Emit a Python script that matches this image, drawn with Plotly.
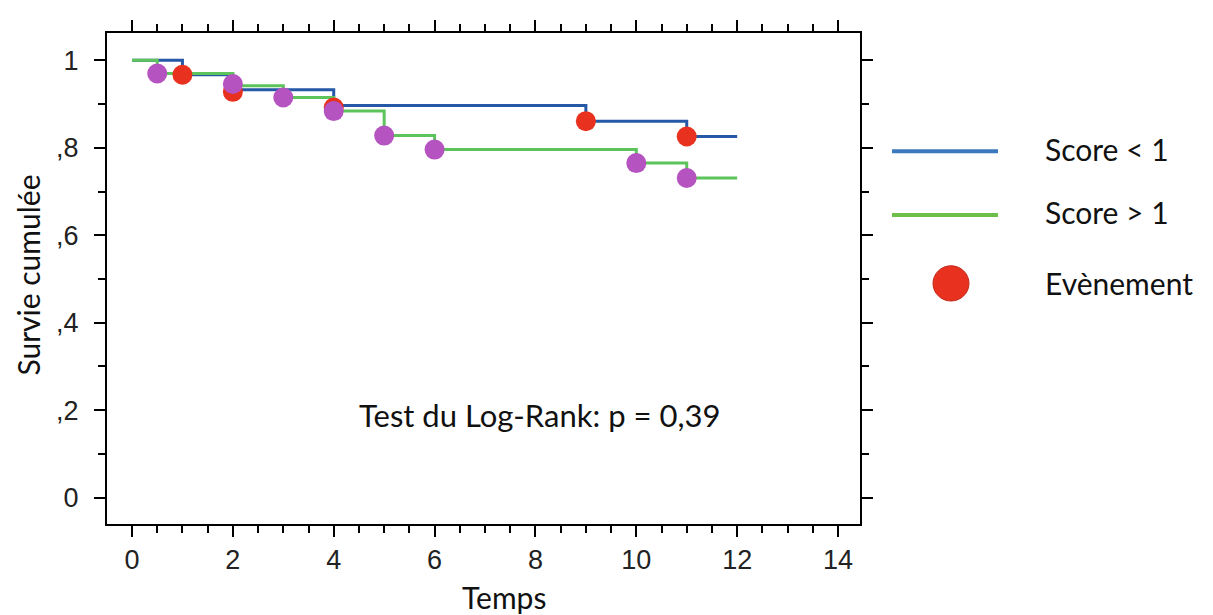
import plotly.graph_objects as go

# Kaplan-Meier steps
blue_t = [0, 1, 2, 4, 9, 11, 12]
blue_s = [1.0, 0.967, 0.933, 0.897, 0.861, 0.826, 0.826]
green_t = [0, 0.5, 2, 3, 4, 5, 6, 10, 11, 12]
green_s = [1.0, 0.970, 0.942, 0.915, 0.884, 0.828, 0.796, 0.765, 0.731, 0.731]

# event markers
red_t = [1, 2, 4, 9, 11]
red_s = [0.967, 0.928, 0.892, 0.861, 0.826]
mag_t = [0.5, 2, 3, 4, 5, 6, 10, 11]
mag_s = [0.970, 0.946, 0.915, 0.884, 0.828, 0.796, 0.765, 0.731]

x_ticks = [0, 2, 4, 6, 8, 10, 12, 14]
y_ticks = [0, 0.2, 0.4, 0.6, 0.8, 1.0]
y_labels = ["0", ",2", ",4", ",6", ",8", "1"]

BLUE = "#2558A6"
GREEN = "#5CC45A"
RED = "#E8311E"
MAG = "#B553C0"
TXT = "Lato"

fig = go.Figure()
fig.add_trace(go.Scatter(x=blue_t, y=blue_s, mode="lines", line=dict(color=BLUE, width=3, shape="hv"),
                         name="Score < 1", showlegend=False))
fig.add_trace(go.Scatter(x=green_t, y=green_s, mode="lines", line=dict(color=GREEN, width=3, shape="hv"),
                         name="Score > 1", showlegend=False))
fig.add_trace(go.Scatter(x=red_t, y=red_s, mode="markers", marker=dict(color=RED, size=20),
                         name="Evènement", showlegend=False))
fig.add_trace(go.Scatter(x=mag_t, y=mag_s, mode="markers", marker=dict(color=MAG, size=20),
                         name="Evènement (Score > 1)", showlegend=False))

axis_common = dict(showline=True, linecolor="black", linewidth=2, mirror="ticks", ticks="outside",
                   tickcolor="black", tickwidth=2, ticklen=11, showgrid=False, zeroline=False,
                   tickfont=dict(family="Liberation Sans", size=27, color="#222"))

fig.update_xaxes(range=[-0.496, 14.436], tickvals=x_ticks,
                 minor=dict(dtick=0.5, ticks="outside", ticklen=7, tickcolor="black", tickwidth=2, showgrid=False),
                 **axis_common)
fig.update_yaxes(range=[-0.0604, 1.0626], tickvals=y_ticks, ticktext=y_labels, ticklabelstandoff=10,
                 minor=dict(dtick=0.1, ticks="outside", ticklen=7, tickcolor="black", tickwidth=2, showgrid=False),
                 **axis_common)

OFF = 8  # page body margin
W, H = 1213 - OFF, 615 - OFF
# plot area in page pixels: left 107, right 860, top 22, bottom 524
L = 107 - OFF
T = 22 - OFF
R = W - (860 - OFF)
B = H - (524 - OFF)
pw, ph = W - L - R, H - T - B

def px(xp):
    return (xp - OFF - L) / pw

def py(yp):
    return (H - B - (yp - OFF)) / ph

annots = [
    dict(text="Survie cumulée", x=px(28), y=py(270), textangle=-90, size=30, xa="center"),
    dict(text="Temps", x=px(504), y=py(599), textangle=0, size=30, xa="center"),
    dict(text="Score < 1", x=px(1043), y=py(141), textangle=0, size=30, xa="left"),
    dict(text="Score > 1", x=px(1043), y=py(205), textangle=0, size=30, xa="left"),
    dict(text="Evènement", x=px(1043), y=py(278), textangle=0, size=30, xa="left"),
]
for a in annots:
    fig.add_annotation(text=a["text"], x=a["x"], y=a["y"], xref="paper", yref="paper",
                       showarrow=False, textangle=a["textangle"], xanchor=a["xa"], yanchor="middle",
                       font=dict(family=TXT, size=a["size"], color="#111"))

fig.add_annotation(text="Test du Log-Rank: p = 0,39", x=8.09, y=0.188, xref="x", yref="y",
                   showarrow=False, xanchor="center", yanchor="middle",
                   font=dict(family=TXT, size=31, color="#111"))

fig.add_shape(type="line", xref="paper", yref="paper", x0=px(892), x1=px(998), y0=py(143), y1=py(143),
              line=dict(color="#3B78BD", width=4))
fig.add_shape(type="line", xref="paper", yref="paper", x0=px(892), x1=px(998), y0=py(208), y1=py(208),
              line=dict(color="#6CC04A", width=4))
r = 18
fig.add_shape(type="circle", xref="paper", yref="paper", x0=px(951 - r), x1=px(951 + r),
              y0=py(278 + r), y1=py(278 - r), fillcolor=RED, line=dict(color="#C0281A", width=1))

fig.update_layout(width=W, height=H, margin=dict(l=L, r=R, t=T, b=B, pad=0),
                  plot_bgcolor="white", paper_bgcolor="white", showlegend=False)

fig.write_html("out.html")
